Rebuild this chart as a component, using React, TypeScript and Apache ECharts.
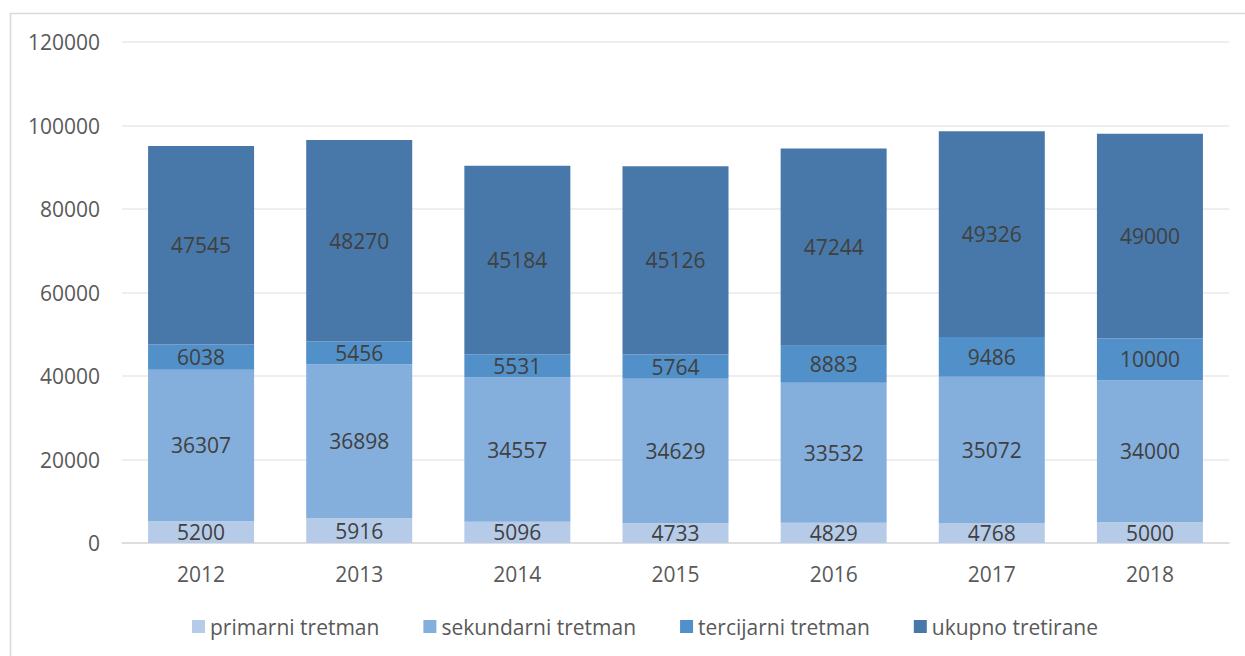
import React, { useEffect, useRef } from "react";
import * as echarts from "echarts";

const years = ["2012", "2013", "2014", "2015", "2016", "2017", "2018"];
const primarni = [5200, 5916, 5096, 4733, 4829, 4768, 5000];
const sekundarni = [36307, 36898, 34557, 34629, 33532, 35072, 34000];
const tercijarni = [6038, 5456, 5531, 5764, 8883, 9486, 10000];
const ukupno = [47545, 48270, 45184, 45126, 47244, 49326, 49000];
const seriesNames = ["primarni tretman", "sekundarni tretman", "tercijarni tretman", "ukupno tretirane"];
const seriesColors = ["#B6CBE8", "#84AEDC", "#5290C9", "#4778A9"];

const FONT = "'Open Sans', 'Liberation Sans', sans-serif";

export default function App() {
  const ref = useRef<HTMLDivElement>(null);
  useEffect(() => {
    if (!ref.current) return;
    const chart = echarts.init(ref.current, undefined, { renderer: "svg" });
    const datasets = [primarni, sekundarni, tercijarni, ukupno];
    chart.setOption({
      animation: false,
      backgroundColor: "#ffffff",
      textStyle: { fontFamily: FONT },
      grid: { left: 122, right: 16, top: 42, bottom: 113 },
      legend: {
        bottom: 14,
        left: 187,
        icon: "rect",
        itemWidth: 13,
        itemHeight: 13,
        itemGap: 44,
        textStyle: { fontSize: 21, color: "#595959", fontFamily: FONT },
        data: seriesNames,
      },
      xAxis: {
        type: "category",
        data: years,
        axisLine: { lineStyle: { color: "#D9D9D9", width: 1.5 } },
        axisTick: { show: false },
        axisLabel: { fontSize: 21, color: "#595959", margin: 20 },
      },
      yAxis: {
        type: "value",
        min: 0,
        max: 120000,
        interval: 20000,
        axisLine: { show: false },
        axisTick: { show: false },
        splitLine: { lineStyle: { color: "#E8E8E8", width: 1.5 } },
        axisLabel: {
          fontSize: 21,
          color: "#595959",
          margin: 22,
          formatter: (v: number) => String(v),
        },
      },
      series: datasets.map((d, i) => ({
        name: seriesNames[i],
        type: "bar",
        stack: "total",
        barWidth: 106,
        data: d,
        itemStyle: { color: seriesColors[i] },
        label: {
          show: true,
          position: "inside",
          fontSize: 21,
          color: "#404040",
          fontFamily: FONT,
        },
      })),
      graphic: [
        {
          type: "line",
          shape: { x1: 10, y1: 13.5, x2: 1245, y2: 13.5 },
          style: { stroke: "#D9D9D9", lineWidth: 1.5 },
          z: 100,
        },
        {
          type: "line",
          shape: { x1: 10.5, y1: 13, x2: 10.5, y2: 656 },
          style: { stroke: "#D9D9D9", lineWidth: 1.5 },
          z: 100,
        },
      ],
    });
    return () => chart.dispose();
  }, []);
  return (
    <div
      ref={ref}
      style={{ position: "fixed", left: 0, top: 0, width: 1245, height: 656 }}
    />
  );
}
